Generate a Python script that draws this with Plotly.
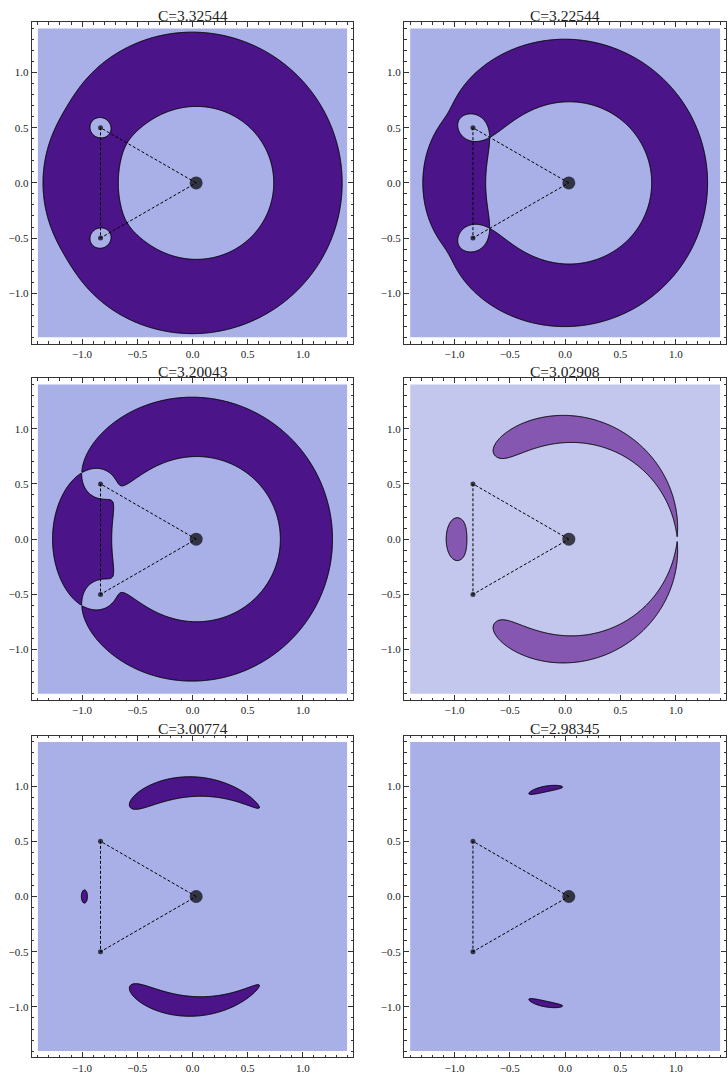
import numpy as np
import plotly.graph_objects as go

# ---- data ----
C_levels = [3.32544, 3.22544, 3.20043, 3.02908, 3.00774, 2.98345]
titles = ["C=3.32544", "C=3.22544", "C=3.20043", "C=3.02908", "C=3.00774", "C=2.98345"]
mu = 0.01907                    # mass of each small primary (m2 = m3)
tick_vals = [-1.0, -0.5, 0.0, 0.5, 1.0]
tick_text = ["\u22121.0", "\u22120.5", "0.0", "0.5", "1.0"]
plot_extent = 1.4

fill_colors = ["#4b1589", "#4b1589", "#4b1589", "#8557b0", "#4b1589", "#4b1589"]
bg_colors = ["#a9b0e8", "#a9b0e8", "#a9b0e8", "#c3c7ee", "#a9b0e8", "#a9b0e8"]

S3 = np.sqrt(3.0)


def primaries(m):
    x1 = S3 * m
    x2 = S3 * m - S3 / 2
    return [(x1, 0.0, 1 - 2 * m), (x2, 0.5, m), (x2, -0.5, m)]


def two_omega(x, y, m):
    out = x * x + y * y
    for (px, py, pm) in primaries(m):
        r = np.sqrt((x - px) ** 2 + (y - py) ** 2)
        out = out + 2 * pm / np.maximum(r, 1e-6)
    return out


N = 441
g = np.linspace(-plot_extent, plot_extent, N)
X, Y = np.meshgrid(g, g)
Z = np.minimum(two_omega(X, Y, mu), 6.0).astype(np.float32)

W, H = 728, 1079
col_px = [(31.7, 353.3), (404.0, 726.3)]
row_px = [(22.3, 343.5), (378.3, 700.0), (735.7, 1057.3)]

fig = go.Figure()
layout = dict(width=W, height=H, margin=dict(l=0, r=0, t=0, b=0),
              paper_bgcolor="white", plot_bgcolor="white", showlegend=False,
              font=dict(family="Liberation Serif", size=11, color="#222"))
shapes, annotations = [], []
rng = [-1.456, 1.456]
P = primaries(mu)
for i in range(6):
    r, c = divmod(i, 2)
    k = "" if i == 0 else str(i + 1)
    xa, ya = "x" + k, "y" + k
    (x0p, x1p), (y0p, y1p) = col_px[c], row_px[r]
    axis_common = dict(range=rng, showgrid=False, zeroline=False, showline=True,
                       linecolor="#333", linewidth=1, mirror="allticks",
                       ticks="inside", ticklen=5, tickwidth=1, tickcolor="#333",
                       tickvals=tick_vals, ticktext=tick_text,
                       tickfont=dict(family="Liberation Serif", size=11, color="#222"),
                       minor=dict(dtick=0.1, tick0=0, ticks="inside", ticklen=2.5,
                                  tickcolor="#333", showgrid=False))
    layout["xaxis" + k] = dict(axis_common, domain=[x0p / W, x1p / W], anchor=ya)
    layout["yaxis" + k] = dict(axis_common, domain=[1 - y1p / H, 1 - y0p / H], anchor=xa)
    shapes.append(dict(type="rect", xref=xa, yref=ya, x0=-plot_extent, x1=plot_extent,
                       y0=-plot_extent, y1=plot_extent, fillcolor=bg_colors[i],
                       line=dict(width=0), layer="below"))
    # constraint '>' keeps the allowed region and shades the forbidden one (2*Omega < C)
    fig.add_trace(go.Contour(x=g, y=g, z=Z, xaxis=xa, yaxis=ya, showscale=False,
                             contours=dict(type="constraint", operation=">", value=C_levels[i]),
                             fillcolor=fill_colors[i], line=dict(color="black", width=1),
                             hoverinfo="skip"))
    fig.add_trace(go.Scatter(x=[P[0][0], P[1][0], P[2][0], P[0][0]],
                             y=[P[0][1], P[1][1], P[2][1], P[0][1]],
                             xaxis=xa, yaxis=ya, mode="lines",
                             line=dict(color="black", width=1, dash="3px,2px"), hoverinfo="skip"))
    fig.add_trace(go.Scatter(x=[p[0] for p in P], y=[p[1] for p in P], xaxis=xa, yaxis=ya,
                             mode="markers", marker=dict(color="black", size=[13, 5, 5],
                                                         line=dict(width=0)),
                             hoverinfo="skip"))
    annotations.append(dict(text=titles[i], xref="paper", yref="paper",
                            x=(x0p + x1p) / 2 / W, y=1 - (y0p - 7.0) / H,
                            xanchor="center", yanchor="middle", showarrow=False,
                            font=dict(family="Liberation Serif", size=15.5, color="#222")))
layout["shapes"] = shapes
layout["annotations"] = annotations
fig.update_layout(**layout)
fig.write_html("out.html", config={"displayModeBar": False},
               post_script="document.documentElement.style.margin='0';"
                           "document.body.style.margin='0';document.body.style.padding='0';")
